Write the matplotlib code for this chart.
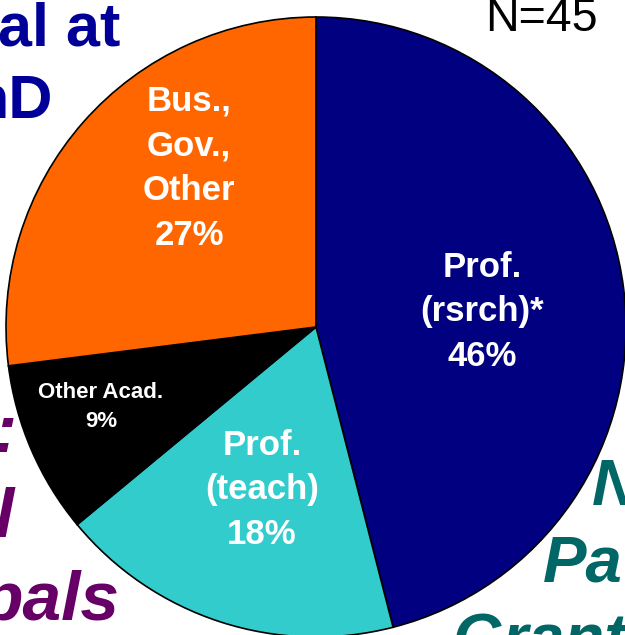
import matplotlib.pyplot as plt

# slice data, clockwise from 12 o'clock
labels = ["Prof.\n(rsrch)*", "Prof.\n(teach)", "Other Acad.", "Bus.,\nGov.,\nOther"]
shares = [46, 18, 9, 27]
colors = ["#000080", "#33CCCC", "#000000", "#FF6600"]
n_total = 45

W, H = 625, 635
plt.rcParams["font.family"] = ["Liberation Sans", "DejaVu Sans"]

fig = plt.figure(figsize=(W / 100, H / 100), dpi=100)
ax = fig.add_axes([0, 0, 1, 1])

cx, cy, r = 316, H - 327, 310
wedges, _ = ax.pie(
    shares, colors=colors, startangle=90, counterclock=False,
    center=(cx, cy), radius=r, frame=True,
    wedgeprops=dict(edgecolor="black", linewidth=1.2),
)
ax.set_xlim(0, W)
ax.set_ylim(0, H)
ax.set_aspect("equal")
ax.axis("off")


def py(y):
    return H - y


# in-slice labels (pixel positions measured from the top)
slice_pos = [(482, 312), (262, 490), (101, 407), (189, 168)]
slice_size = [25, 25, 16, 25]
for lab, pct, (x, y), fs in zip(labels, shares, slice_pos, slice_size):
    ax.text(x, py(y), f"{lab}\n{pct}%", color="white", fontsize=fs,
            fontweight="bold", ha="center", va="center", linespacing=1.45)

ax.text(598, py(31), f"N={n_total}", fontsize=33.5, ha="right",
        va="baseline", color="black")

# clipped slide text around the chart
navy, purple, teal = "#000099", "#660066", "#006666"
ax.text(120, py(45), "al at", fontsize=44, fontweight="bold", color=navy,
        ha="right", va="baseline")
ax.text(53, py(118), "hD", fontsize=44, fontweight="bold", color=navy,
        ha="right", va="baseline")

ax.text(17, py(452), ":", fontsize=50, fontweight="bold", style="italic",
        color=purple, ha="right", va="baseline")
ax.text(14, py(537), "l", fontsize=50, fontweight="bold", style="italic",
        color=purple, ha="right", va="baseline")
ax.text(120, py(620), "pals", fontsize=50, fontweight="bold", style="italic",
        color=purple, ha="right", va="baseline")

ax.text(592, py(505), "N", fontsize=47, fontweight="bold", style="italic",
        color=teal, ha="left", va="baseline")
ax.text(543, py(581), "Pa", fontsize=47, fontweight="bold", style="italic",
        color=teal, ha="left", va="baseline")
ax.text(453, py(660), "Grant", fontsize=47, fontweight="bold", style="italic",
        color=teal, ha="left", va="baseline")

fig.savefig("out.png", dpi=100)
